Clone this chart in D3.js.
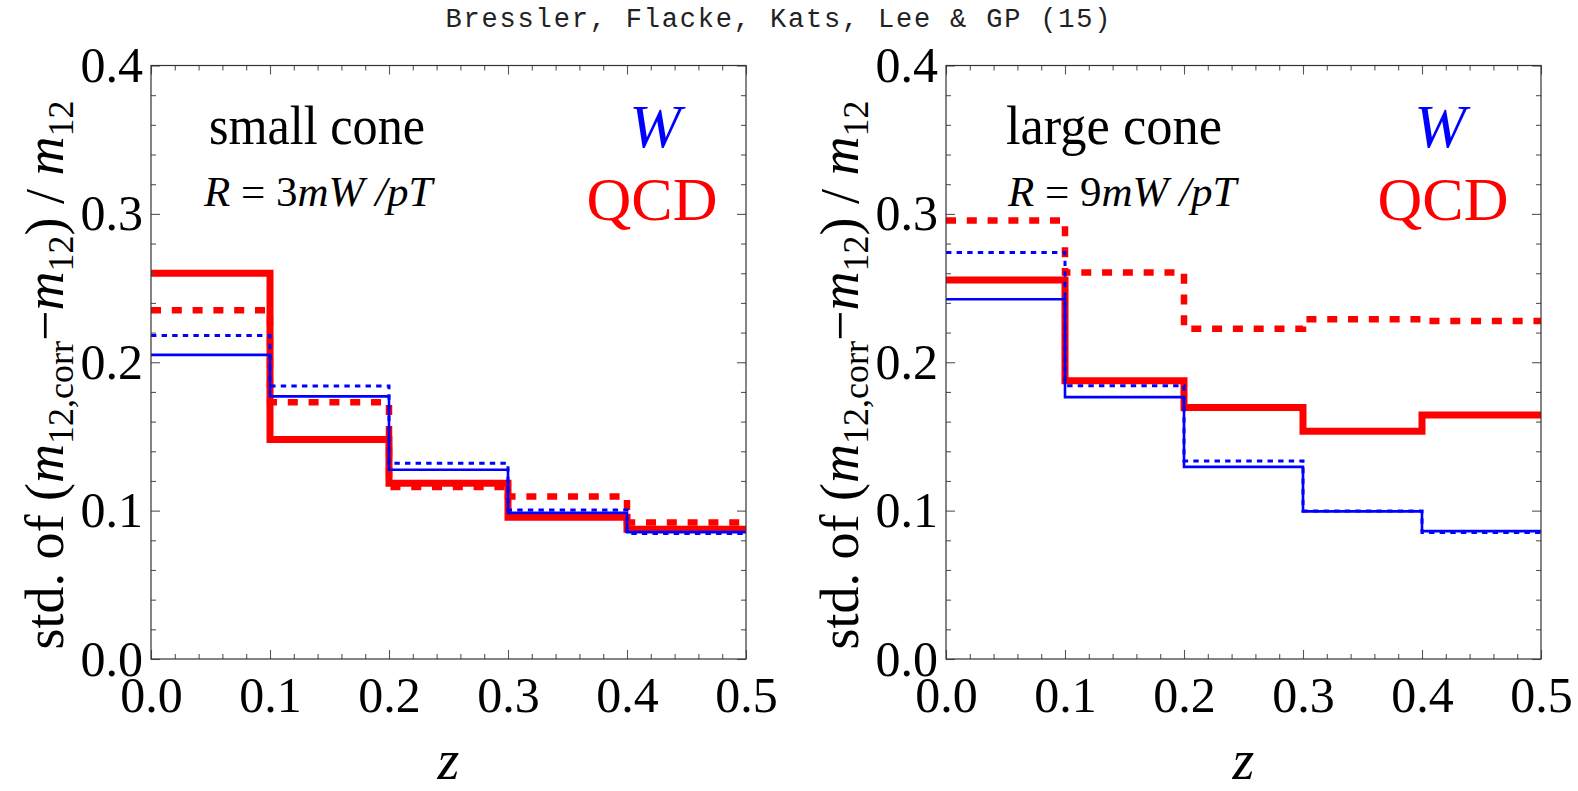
<!DOCTYPE html>
<html>
<head>
<meta charset="utf-8">
<script src="https://cdn.jsdelivr.net/npm/d3@7"></script>
<style>
  html, body { margin: 0; padding: 0; background: #fff; }
  svg { display: block; }
</style>
</head>
<body>
<svg id="chart" width="1578" height="791"></svg>
<script>
// bin left edges, last bin ends at 0.5
const binEdges = [0.0, 0.1, 0.2, 0.3, 0.4]
const zMax = 0.5

// small cone, R = 3 mW / pT
const qcdSolidSmall = [0.260, 0.148, 0.1185, 0.0955, 0.0875]
const qcdDashedSmall = [0.235, 0.173, 0.116, 0.1095, 0.092]
const wSolidSmall = [0.205, 0.177, 0.1275, 0.0985, 0.0855]
const wDottedSmall = [0.218, 0.184, 0.132, 0.1005, 0.0845]

// large cone, R = 9 mW / pT
const qcdSolidLarge = [0.2555, 0.1875, 0.1695, 0.1535, 0.1645]
const qcdDashedLarge = [0.2955, 0.2605, 0.2225, 0.229, 0.2278]
const wSolidLarge = [0.2425, 0.1765, 0.1295, 0.0995, 0.0862]
const wDottedLarge = [0.274, 0.1842, 0.1335, 0.0998, 0.0852]

const xTicks = [0.0, 0.1, 0.2, 0.3, 0.4, 0.5]
const yTicks = [0.0, 0.1, 0.2, 0.3, 0.4]

const panels = [
  {
    left: 151, label: 'small cone', radius: '3',
    series: [qcdSolidSmall, qcdDashedSmall, wSolidSmall, wDottedSmall],
    labelX: 58, radiusX: 53, wX: 504, qcdX: 501,
  },
  {
    left: 946, label: 'large cone', radius: '9',
    series: [qcdSolidLarge, qcdDashedLarge, wSolidLarge, wDottedLarge],
    labelX: 60, radiusX: 62, wX: 494, qcdX: 497,
  },
]

// line styles, same order as panel.series
const lineStyles = [
  { color: '#ff0000', width: 7, dash: null },
  { color: '#ff0000', width: 6.5, dash: '10,10.8' },
  { color: '#0000ff', width: 2.6, dash: null },
  { color: '#0000ff', width: 3, dash: '5.4,5.2' },
]

const serif = '"Liberation Serif", "Times New Roman", Times, serif'
const plotTop = 65.5
const plotBottom = 659
const plotWidth = 595
const plotHeight = plotBottom - plotTop

const svg = d3.select('#chart')

svg.append('rect')
  .attr('width', 1578)
  .attr('height', 791)
  .attr('fill', '#fff')

// title
svg.append('text')
  .attr('x', 778)
  .attr('y', 27)
  .attr('text-anchor', 'middle')
  .style('font-family', '"Liberation Mono", "Courier New", monospace')
  .style('font-size', '27px')
  .attr('textLength', 665)
  .attr('lengthAdjust', 'spacing')
  .attr('fill', '#222')
  .text('Bressler, Flacke, Kats, Lee & GP (15)')

const xScale = d3.scaleLinear().domain([0, zMax]).range([0, plotWidth])
const yScale = d3.scaleLinear().domain([0, 0.4]).range([plotHeight, 0])

const isMajor = (v) => Math.abs(v * 10 - Math.round(v * 10)) < 1e-6
const minorX = d3.range(0, 0.5001, 0.02).filter((v) => !isMajor(v))
const minorY = d3.range(0, 0.4001, 0.02).filter((v) => !isMajor(v))

const step = d3.line()
  .x((d) => xScale(d[0]))
  .y((d) => yScale(d[1]))
  .curve(d3.curveStepAfter)

panels.forEach((p) => {
  const g = svg.append('g').attr('transform', `translate(${p.left},${plotTop})`)

  // step curves
  p.series.forEach((values, i) => {
    const pts = binEdges.map((x, k) => [x, values[k]])
    pts.push([zMax, values[values.length - 1]])
    const st = lineStyles[i]
    g.append('path')
      .attr('d', step(pts))
      .attr('fill', 'none')
      .attr('stroke', st.color)
      .attr('stroke-width', st.width)
      .attr('stroke-dasharray', st.dash)
      .attr('stroke-linejoin', 'miter')
  })

  // frame ticks (inward on all four sides)
  const axisStyle = (sel) => {
    sel.select('.domain').remove()
    sel.selectAll('line').attr('stroke', '#555').attr('stroke-width', 1.1)
    sel.selectAll('text')
      .style('font-family', serif)
      .style('font-size', '50px')
      .attr('fill', '#000')
  }

  g.append('g')
    .attr('transform', `translate(0,${plotHeight})`)
    .call(d3.axisBottom(xScale).tickValues(xTicks).tickFormat(d3.format('.1f')).tickSize(-9).tickPadding(17))
    .call(axisStyle)
  g.append('g')
    .attr('transform', `translate(0,${plotHeight})`)
    .call(d3.axisBottom(xScale).tickValues(minorX).tickFormat('').tickSize(-5))
    .call(axisStyle)
  g.append('g')
    .call(d3.axisTop(xScale).tickValues(xTicks).tickFormat('').tickSize(-9))
    .call(axisStyle)
  g.append('g')
    .call(d3.axisTop(xScale).tickValues(minorX).tickFormat('').tickSize(-5))
    .call(axisStyle)

  g.append('g')
    .call(d3.axisLeft(yScale).tickValues(yTicks).tickFormat(d3.format('.1f')).tickSize(-9).tickPadding(8))
    .call(axisStyle)
  g.append('g')
    .call(d3.axisLeft(yScale).tickValues(minorY).tickFormat('').tickSize(-5))
    .call(axisStyle)
  g.append('g')
    .attr('transform', `translate(${plotWidth},0)`)
    .call(d3.axisRight(yScale).tickValues(yTicks).tickFormat('').tickSize(-9))
    .call(axisStyle)
  g.append('g')
    .attr('transform', `translate(${plotWidth},0)`)
    .call(d3.axisRight(yScale).tickValues(minorY).tickFormat('').tickSize(-5))
    .call(axisStyle)

  // frame
  g.append('rect')
    .attr('width', plotWidth)
    .attr('height', plotHeight)
    .attr('fill', 'none')
    .attr('stroke', '#333')
    .attr('stroke-width', 1.2)

  // in-plot labels
  g.append('text')
    .attr('x', p.labelX)
    .attr('y', 144 - plotTop)
    .style('font-family', serif)
    .style('font-size', '55px')
    .attr('textLength', 216)
    .attr('lengthAdjust', 'spacingAndGlyphs')
    .text(p.label)

  const r = g.append('text')
    .attr('x', p.radiusX)
    .attr('y', 206 - plotTop)
    .style('font-family', serif)
    .style('font-size', '43px')
  r.append('tspan').style('font-style', 'italic').text('R')
  r.append('tspan').text(' = ' + p.radius)
  r.append('tspan').style('font-style', 'italic').text('mW /pT')

  g.append('text')
    .attr('x', p.wX)
    .attr('y', 147 - plotTop)
    .attr('text-anchor', 'middle')
    .style('font-family', serif)
    .style('font-size', '62px')
    .style('font-style', 'italic')
    .attr('fill', '#0000ff')
    .text('W')

  g.append('text')
    .attr('x', p.qcdX)
    .attr('y', 220 - plotTop)
    .attr('text-anchor', 'middle')
    .style('font-family', serif)
    .style('font-size', '62px')
    .attr('fill', '#ff0000')
    .text('QCD')

  // x axis title
  g.append('text')
    .attr('x', plotWidth / 2)
    .attr('y', 779 - plotTop)
    .attr('text-anchor', 'middle')
    .style('font-family', serif)
    .style('font-size', '56px')
    .style('font-style', 'italic')
    .text('z')

  // y axis title
  const yt = svg.append('text')
    .attr('transform', `translate(${p.left - 88},375) rotate(-90)`)
    .attr('text-anchor', 'middle')
    .style('font-family', serif)
    .style('font-size', '54px')
  yt.append('tspan').text('std. of (')
  yt.append('tspan').style('font-style', 'italic').text('m')
  yt.append('tspan').attr('dy', 10).style('font-size', '36px').text('12,corr')
  yt.append('tspan').attr('dy', -10).text('\u2212')
  yt.append('tspan').style('font-style', 'italic').text('m')
  yt.append('tspan').attr('dy', 10).style('font-size', '36px').text('12')
  yt.append('tspan').attr('dy', -10).text(') / ')
  yt.append('tspan').style('font-style', 'italic').text('m')
  yt.append('tspan').attr('dy', 10).style('font-size', '36px').text('12')
})
</script>
</body>
</html>
